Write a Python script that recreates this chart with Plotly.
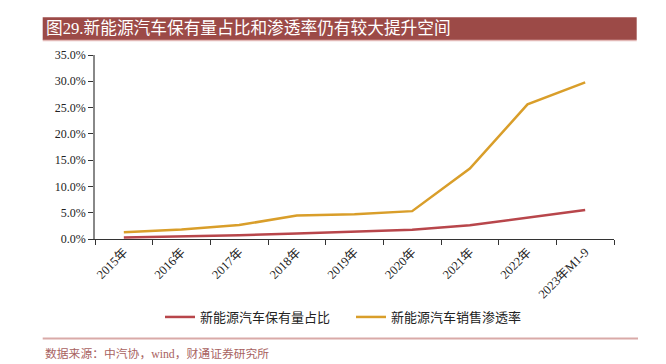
import plotly.graph_objects as go

categories = ["2015年", "2016年", "2017年", "2018年", "2019年", "2020年", "2021年", "2022年", "2023年M1-9"]
ownership_share = [0.3, 0.5, 0.7, 1.05, 1.4, 1.75, 2.6, 4.05, 5.5]
sales_penetration = [1.3, 1.8, 2.65, 4.45, 4.7, 5.3, 13.4, 25.6, 29.8]
series_names = ["新能源汽车保有量占比", "新能源汽车销售渗透率"]
title_text = "图29.新能源汽车保有量占比和渗透率仍有较大提升空间"
source_text = "数据来源：中汽协，wind，财通证券研究所"

FONT = "Liberation Serif, Noto Sans CJK SC, serif"
OFF = 8  # page body margin
W, H = 666 - OFF, 364 - OFF
L, R, T, B = 95 - OFF, 614 - OFF, 55 - OFF, 239 - OFF
pw, ph = R - L, B - T

def px(x):
    return (x - OFF - L) / pw

def py(y):
    return (B - (y - OFF)) / ph

fig = go.Figure()
fig.add_trace(go.Scatter(x=categories, y=ownership_share, mode="lines", name=series_names[0],
                         line=dict(color="#B8464B", width=2.5)))
fig.add_trace(go.Scatter(x=categories, y=sales_penetration, mode="lines", name=series_names[1],
                         line=dict(color="#D99E2A", width=2.5)))

fig.update_layout(
    width=W, height=H,
    margin=dict(l=L, r=W - R, t=T, b=H - B),
    paper_bgcolor="white", plot_bgcolor="white",
    font=dict(family=FONT, size=12, color="#222"),
    showlegend=True,
    legend=dict(orientation="h", x=px(160), xanchor="left", y=py(317), yanchor="middle",
                font=dict(size=13, family="Noto Sans CJK SC", color="#222"),
                itemwidth=30, entrywidth=146, tracegroupgap=0),
    xaxis=dict(type="category", showgrid=False, showline=True, linecolor="#333", linewidth=1,
               ticks="outside", tickson="boundaries", ticklen=5, tickcolor="#333",
               tickangle=-45, tickfont=dict(size=12.5, family=FONT), range=[-0.5, 8.5]),
    yaxis=dict(range=[0, 35], dtick=5, tickformat=".1f", ticksuffix="%", showgrid=False,
               showline=True, linecolor="#888", linewidth=1.5, ticks="outside", ticklen=5,
               tickcolor="#333", tickfont=dict(size=12, family=FONT), zeroline=False),
)

shapes = [
    dict(type="rect", xref="paper", yref="paper", x0=px(42.7), x1=px(636.7), y0=py(40), y1=py(17.3),
         fillcolor="#9C4A47", line=dict(width=0), layer="above"),
    dict(type="line", xref="paper", yref="paper", x0=px(42.7), x1=px(636.7), y0=py(40.5), y1=py(40.5),
         line=dict(color="#E2B8B6", width=1.5)),
    dict(type="line", xref="paper", yref="paper", x0=px(42.7), x1=px(638), y0=py(338.5), y1=py(338.5),
         line=dict(color="#D9AAA8", width=2)),
]
fig.update_layout(shapes=shapes)

fig.add_annotation(text=title_text, xref="paper", yref="paper", x=px(44), y=py(28.5),
                   xanchor="left", yanchor="middle", showarrow=False,
                   font=dict(family="Liberation Serif, Noto Sans CJK SC", size=16.7, color="white"))
fig.add_annotation(text=source_text, xref="paper", yref="paper", x=px(43), y=py(353.5),
                   xanchor="left", yanchor="middle", showarrow=False,
                   font=dict(family="Liberation Serif, Noto Sans CJK SC", size=11.8, color="#A8625F"))

fig.write_html("out.html")
